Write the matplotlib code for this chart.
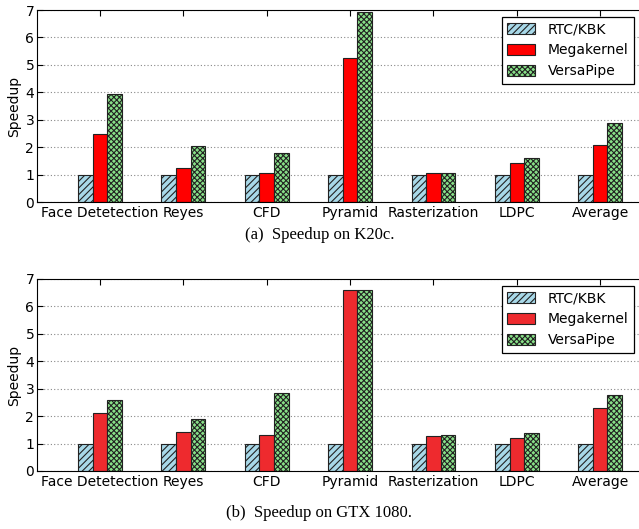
import numpy as np
import matplotlib
matplotlib.use('Agg')
import matplotlib.pyplot as plt

plt.rcParams['hatch.linewidth'] = 0.8
plt.rcParams['font.family'] = 'DejaVu Sans'

benchmarks = ["Face Detetection", "Reyes", "CFD", "Pyramid", "Rasterization", "LDPC", "Average"]
series = ["RTC/KBK", "Megakernel", "VersaPipe"]

# K20c
k20c_rtc = [1, 1, 1, 1, 1, 1, 1]
k20c_mega = [2.49, 1.24, 1.07, 5.24, 1.05, 1.41, 2.09]
k20c_versa = [3.93, 2.04, 1.78, 6.92, 1.05, 1.59, 2.88]

# GTX 1080
gtx_rtc = [1, 1, 1, 1, 1, 1, 1]
gtx_mega = [2.10, 1.41, 1.31, 6.60, 1.28, 1.19, 2.31]
gtx_versa = [2.59, 1.89, 2.84, 6.60, 1.31, 1.39, 2.77]

W, H = 639, 529
fig = plt.figure(figsize=(W / 100, H / 100), dpi=100)


def make_axes(top_px, bottom_px):
    left, right = 37, 641
    return fig.add_axes([left / W, (H - bottom_px) / H, (right - left) / W, (bottom_px - top_px) / H])


def draw(ax, rtc, mega, versa, red):
    ind = np.arange(len(benchmarks))
    w = 0.175
    ax.bar(ind - w, rtc, w, color='#a8d8e8', edgecolor='#222222', hatch='/////', linewidth=0.8, label=series[0])
    ax.bar(ind, mega, w, color=red, edgecolor='#222222', linewidth=0.8, label=series[1])
    ax.bar(ind + w, versa, w, color='#88e088', edgecolor='#222222', hatch='xxxxxx', linewidth=0.8, label=series[2])
    ax.set_xlim(-0.756, 6.49)
    ax.set_ylim(0, 7)
    ax.set_xticks(ind)
    ax.set_xticklabels(benchmarks, fontsize=10)
    ax.set_yticks(range(8))
    ax.tick_params(axis='y', labelsize=10, direction='in', length=4, pad=2)
    ax.tick_params(axis='x', direction='in', top=True, length=4, pad=3)
    ax.set_ylabel("Speedup", fontsize=10, labelpad=3)
    ax.yaxis.grid(True, linestyle=(0, (1, 2)), color='#888888', linewidth=0.8)
    ax.set_axisbelow(True)
    leg = ax.legend(loc='upper right', fontsize=10, fancybox=False, edgecolor='black',
                    handlelength=2.0, handleheight=0.9, handletextpad=0.9,
                    borderaxespad=0.5, framealpha=1)
    leg.get_frame().set_linewidth(0.9)


ax1 = make_axes(10, 202)
draw(ax1, k20c_rtc, k20c_mega, k20c_versa, '#ff0000')
ax2 = make_axes(279, 471)
draw(ax2, gtx_rtc, gtx_mega, gtx_versa, '#ee2a2e')

fig.text(0.5, (H - 235) / H, "(a)  Speedup on K20c.", ha='center', va='center',
         fontsize=12, family='Liberation Serif')
fig.text(0.5, (H - 513) / H, "(b)  Speedup on GTX 1080.", ha='center', va='center',
         fontsize=12, family='Liberation Serif')

fig.savefig("out.png", dpi=100)
